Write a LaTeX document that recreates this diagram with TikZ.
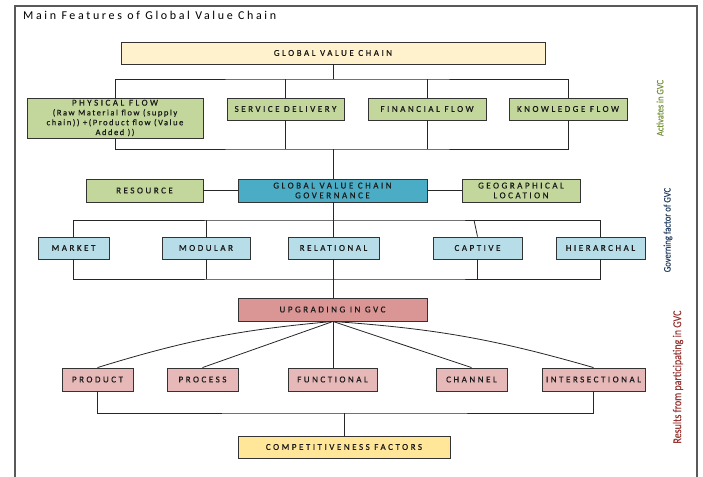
\documentclass[tikz,border=0pt]{standalone}
\usepackage{fontspec}
\setmainfont{Carlito}
\newfontfamily\boxfont[LetterSpace=28,FakeBold=0.4]{Carlito}
\newfontfamily\physfont[LetterSpace=18,FakeBold=0.4]{Carlito}
\newfontfamily\titlefont[LetterSpace=22]{Carlito}
\newfontfamily\sidefont[FakeBold=0.3]{Carlito}
\definecolor{gvcyellow}{HTML}{FFF2CC}
\definecolor{flowgreen}{HTML}{C3D69B}
\definecolor{govblue}{HTML}{4BACC6}
\definecolor{typeblue}{HTML}{B7DEE8}
\definecolor{upgred}{HTML}{D99694}
\definecolor{respink}{HTML}{E6B9B8}
\definecolor{compyellow}{HTML}{FFE699}
\definecolor{boxtext}{HTML}{1A1A1A}
\definecolor{sidegreen}{HTML}{77933C}
\definecolor{sideblue}{HTML}{254061}
\definecolor{sidered}{HTML}{953735}
\definecolor{framegray}{HTML}{595959}
\tikzset{
  box/.style={draw=black!80, line width=0.9pt, inner sep=0pt, align=center,
    font=\boxfont\fontsize{9}{9.8}\selectfont, text=boxtext},
  link/.style={draw=black!85, line width=0.8pt},
  sidelabel/.style={rotate=90, inner sep=0pt}
}
\begin{document}
\begin{tikzpicture}[x=1pt,y=-1pt]
\useasboundingbox (0,0) rectangle (703,476);
% frame
\draw[framegray, line width=1.2pt] (15,480) -- (15,6) -- (697,6) -- (697,480);
\node[anchor=west, inner sep=0pt, font=\titlefont\fontsize{12}{14}\selectfont, text=black] (title) at (23,15) {Main Features of Global Value Chain};

% level 1
\node[box, fill=gvcyellow, minimum width=424pt, minimum height=22pt] (gvc) at (333,53) {GLOBAL VALUE CHAIN};
\node[box, fill=flowgreen, minimum width=176pt, minimum height=40pt] (phys) at (115,118) {PHYSICAL FLOW\\{\physfont\fontsize{8.5}{9.8}\selectfont (Raw Material flow (supply}\\{\physfont\fontsize{8.5}{9.8}\selectfont chain)) +(Product flow (Value}\\{\physfont\fontsize{8.5}{9.8}\selectfont Added ))}};
\node[box, fill=flowgreen, minimum width=117pt, minimum height=22pt] (serv) at (285.5,109) {SERVICE DELIVERY};
\node[box, fill=flowgreen, minimum width=118pt, minimum height=22pt] (fin) at (427,109) {FINANCIAL FLOW};
\node[box, fill=flowgreen, minimum width=118pt, minimum height=22pt] (know) at (568,109) {KNOWLEDGE FLOW};

% level 2
\node[box, fill=flowgreen, minimum width=117pt, minimum height=23pt] (res) at (144.5,190.5) {RESOURCE};
\node[box, fill=govblue, minimum width=189pt, minimum height=23pt] (gov) at (332.5,190.5) {GLOBAL VALUE CHAIN\\GOVERNANCE};
\node[box, fill=flowgreen, minimum width=118pt, minimum height=23pt] (geo) at (521,190.5) {GEOGRAPHICAL\\LOCATION};

% level 3
\node[box, fill=typeblue, minimum width=71pt, minimum height=22pt] (mkt) at (73.5,248) {MARKET};
\node[box, fill=typeblue, minimum width=88pt, minimum height=22pt] (mod) at (206,248) {MODULAR};
\node[box, fill=typeblue, minimum width=91pt, minimum height=22pt] (rel) at (333.5,248) {RELATIONAL};
\node[box, fill=typeblue, minimum width=89pt, minimum height=22pt] (cap) at (477.5,248) {CAPTIVE};
\node[box, fill=typeblue, minimum width=89pt, minimum height=22pt] (hier) at (600.5,248) {HIERARCHAL};

% level 4
\node[box, fill=upgred, minimum width=189pt, minimum height=23pt] (upg) at (332.5,309.5) {UPGRADING IN GVC};
\node[box, fill=respink, minimum width=71pt, minimum height=23pt] (prod) at (97.5,379.5) {PRODUCT};
\node[box, fill=respink, minimum width=71pt, minimum height=23pt] (proc) at (202.5,379.5) {PROCESS};
\node[box, fill=respink, minimum width=89pt, minimum height=23pt] (func) at (332.5,379.5) {FUNCTIONAL};
\node[box, fill=respink, minimum width=71pt, minimum height=23pt] (chan) at (471.5,379.5) {CHANNEL};
\node[box, fill=respink, minimum width=103pt, minimum height=23pt] (inter) at (593.5,379.5) {INTERSECTIONAL};
\node[box, fill=compyellow, minimum width=212pt, minimum height=22pt] (comp) at (344,447) {COMPETITIVENESS FACTORS};

% side labels
\node[sidelabel, text=sidegreen, font=\sidefont\fontsize{10}{12}\selectfont] (lab1) at (660,108) {\scalebox{0.85}[1]{Activates in GVC}};
\node[sidelabel, text=sideblue, font=\sidefont\fontsize{10}{12}\selectfont] (lab2) at (668,230) {\scalebox{0.86}[1]{Governing factor of GVC}};
\node[sidelabel, text=sidered, font=\sidefont\fontsize{12}{14}\selectfont] (lab3) at (678,377) {\scalebox{0.83}[1]{Results from participating in GVC}};

% bar coordinates
\coordinate (b1) at (333,79);
\coordinate (b2) at (333,149);
\coordinate (b3) at (333,220);
\coordinate (c3) at (474,220);
\coordinate (b4) at (333,279);
\coordinate (b5) at (344,413);

% connectors level 1
\draw[link] (gvc.south -| b1) -- (b1);
\draw[link] (phys.north) |- (b1) -| (know.north);
\draw[link] (serv.north) -- (serv.north |- b1);
\draw[link] (fin.north) -- (fin.north |- b1);
\draw[link] (phys.south) |- (b2) -| (know.south);
\draw[link] (serv.south) -- (serv.south |- b2);
\draw[link] (fin.south) -- (fin.south |- b2);
\draw[link] (b2) -- (gov.north -| b2);

% governance
\draw[link] (res.east) -- (gov.west);
\draw[link] (gov.east) -- (geo.west);
\draw[link] (gov.south -| b3) -- (b3);
\draw[link] (mkt.north) |- (b3) -| (hier.north);
\draw[link] (mod.north) -- (mod.north |- b3);
\draw[link] (rel.north -| b3) -- (b3);
\draw[link] (c3) -- (cap.north);
\draw[link] (mkt.south) |- (b4) -| (hier.south);
\draw[link] (mod.south) -- (mod.south |- b4);
\draw[link] (rel.south -| b4) -- (b4);
\draw[link] (cap.south) -- (cap.south |- b4);
\draw[link] (b4) -- (upg.north -| b4);

% upgrading fan
\coordinate (u0) at (upg.south -| b4);
\draw[link] (u0) to[bend right=6] (prod.north);
\draw[link] (u0) -- (proc.north);
\draw[link] (u0) -- (func.north -| u0);
\draw[link] (u0) -- (chan.north);
\draw[link] (u0) to[bend left=6] (inter.north);

% competitiveness
\draw[link] (prod.south) |- (b5) -- (b5 -| inter.south) -- (inter.south);
\draw[link] (b5) -- (comp.north -| b5);
\end{tikzpicture}
\end{document}
